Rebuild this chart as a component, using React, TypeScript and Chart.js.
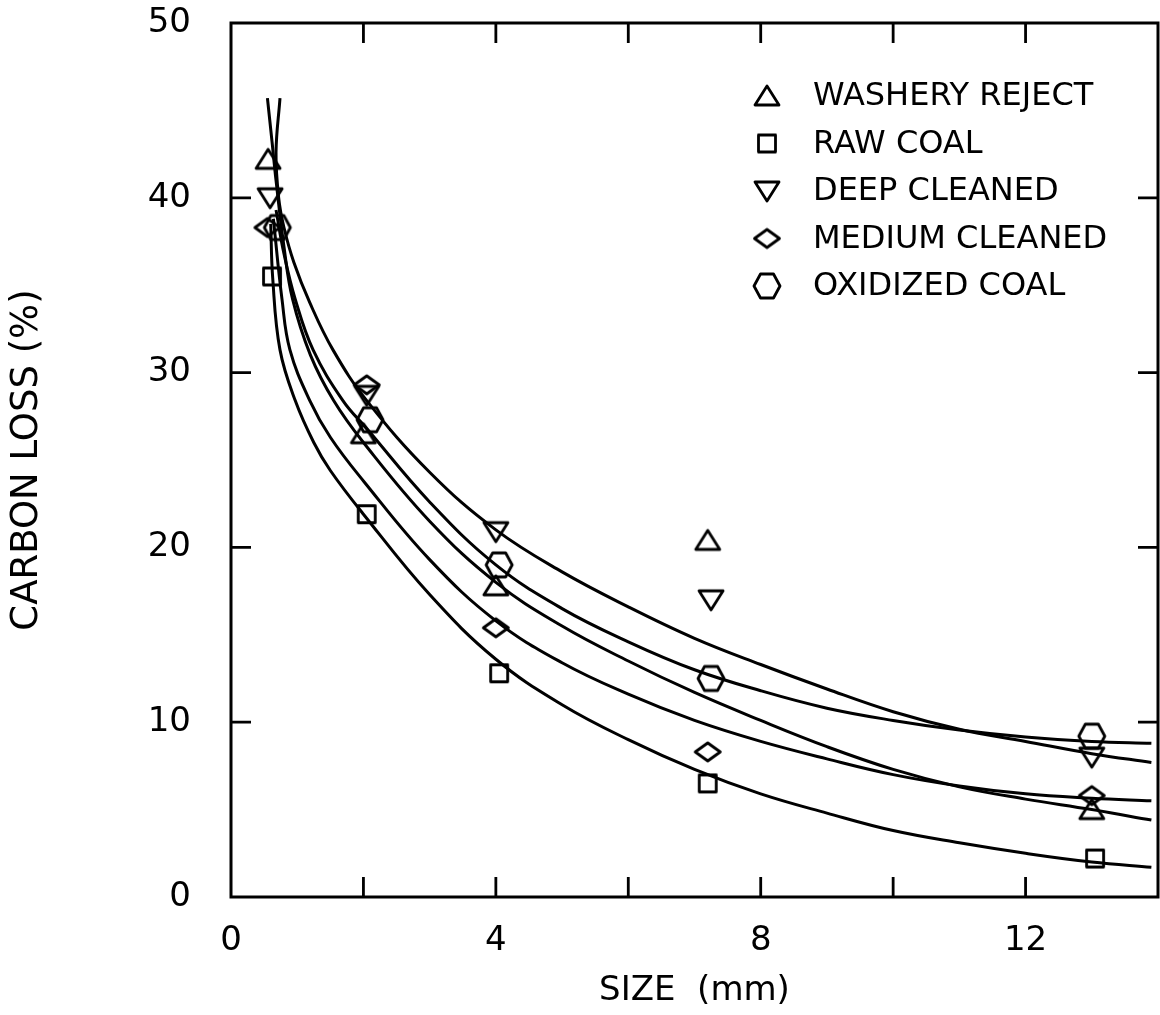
import React, { useEffect, useRef } from 'react';
import { Chart, registerables } from 'chart.js';

Chart.register(...registerables);

const FONT_FAMILY = '"DejaVu Sans", "Liberation Sans", Arial, sans-serif';
const INK = '#000000';

// ---------- labels ----------
const seriesLabels = ['WASHERY REJECT', 'RAW COAL', 'DEEP CLEANED', 'MEDIUM CLEANED', 'OXIDIZED COAL'];
const markerShapes = ['triUp', 'square', 'triDown', 'diamond', 'hexagon'];
const xTitle = 'SIZE  (mm)';
const yTitle = 'CARBON LOSS (%)';

// ---------- tick values ----------
const xTickMarks = [2, 4, 6, 8, 10, 12];
const yTickMarks = [10, 20, 30, 40];
const xLabelEvery = 4;

// ---------- measured points (size mm, carbon loss %) ----------
const washeryPtsX = [0.56, 2.0, 4.0, 7.2, 13.0];
const washeryPtsY = [42.2, 26.5, 17.8, 20.4, 5.0];
const rawPtsX = [0.62, 2.05, 4.05, 7.2, 13.05];
const rawPtsY = [35.5, 21.9, 12.8, 6.5, 2.2];
const deepPtsX = [0.59, 2.05, 4.0, 7.25, 13.0];
const deepPtsY = [40.0, 28.7, 20.9, 17.0, 8.0];
const mediumPtsX = [0.55, 2.05, 4.0, 7.2, 13.0];
const mediumPtsY = [38.3, 29.3, 15.4, 8.3, 5.8];
const oxidizedPtsX = [0.7, 2.1, 4.05, 7.25, 13.0];
const oxidizedPtsY = [38.3, 27.3, 19.0, 12.5, 9.2];

// ---------- fitted curves ----------
const washeryCurveX = [0.55, 0.62, 0.68, 0.8, 0.93, 1.2, 1.55, 2.0, 3.0, 4.0, 5.0, 6.0, 7.0, 8.0, 9.0, 10.0, 11.0, 12.0, 13.0, 13.9];
const washeryCurveY = [45.7, 43.2, 41.0, 37.2, 34.2, 31.0, 28.4, 26.0, 21.5, 18.0, 15.5, 13.5, 11.7, 10.1, 8.6, 7.3, 6.3, 5.6, 5.0, 4.4];
const rawCurveX = [0.6, 0.63, 0.74, 0.97, 1.25, 1.5, 2.0, 3.0, 4.0, 5.0, 6.0, 7.0, 8.0, 9.0, 10.0, 11.0, 12.0, 13.0, 13.9];
const rawCurveY = [38.5, 35.4, 31.3, 28.4, 26.0, 24.4, 21.9, 17.3, 13.6, 11.0, 9.0, 7.3, 5.9, 4.8, 3.8, 3.1, 2.5, 2.0, 1.7];
const deepCurveX = [0.74, 0.68, 0.72, 0.8, 0.95, 1.19, 1.54, 2.05, 3.0, 4.0, 5.0, 6.0, 7.0, 8.0, 9.0, 10.0, 11.0, 12.0, 13.0, 13.9];
const deepCurveY = [45.7, 42.6, 40.0, 38.3, 36.3, 34.0, 31.3, 28.4, 24.3, 21.0, 18.6, 16.6, 14.8, 13.3, 11.9, 10.6, 9.6, 8.9, 8.2, 7.7];
const mediumCurveX = [0.64, 0.77, 0.89, 1.19, 1.5, 2.0, 3.0, 4.0, 5.0, 6.0, 7.0, 8.0, 9.0, 10.0, 11.0, 12.0, 13.0, 13.9];
const mediumCurveY = [38.8, 34.2, 31.3, 28.4, 26.3, 23.8, 19.3, 15.8, 13.4, 11.6, 10.1, 8.9, 7.9, 7.0, 6.35, 5.9, 5.65, 5.5];
const oxidizedCurveX = [0.68, 0.8, 0.97, 1.24, 1.69, 2.05, 3.0, 4.0, 5.0, 6.0, 7.0, 8.0, 9.0, 10.0, 11.0, 12.0, 13.0, 13.9];
const oxidizedCurveY = [39.3, 36.8, 34.2, 31.3, 28.4, 26.8, 22.6, 19.0, 16.5, 14.6, 13.0, 11.8, 10.8, 10.1, 9.55, 9.15, 8.9, 8.8];

function makeMarker(kind: string): HTMLCanvasElement {
  const s = 34;
  const c = document.createElement('canvas');
  c.width = s;
  c.height = s;
  const g = c.getContext('2d')!;
  g.strokeStyle = INK;
  g.lineWidth = 2.8;
  g.lineJoin = 'round';
  const cx = s / 2;
  const cy = s / 2;
  g.beginPath();
  if (kind === 'triUp') {
    g.moveTo(cx, cy - 10);
    g.lineTo(cx + 12, cy + 9);
    g.lineTo(cx - 12, cy + 9);
    g.closePath();
  } else if (kind === 'triDown') {
    g.moveTo(cx - 12, cy - 9);
    g.lineTo(cx + 12, cy - 9);
    g.lineTo(cx, cy + 10);
    g.closePath();
  } else if (kind === 'square') {
    g.rect(cx - 8.5, cy - 8.5, 17, 17);
  } else if (kind === 'diamond') {
    g.moveTo(cx - 12.5, cy);
    g.lineTo(cx, cy - 9);
    g.lineTo(cx + 12.5, cy);
    g.lineTo(cx, cy + 9);
    g.closePath();
  } else {
    g.moveTo(cx - 13, cy);
    g.lineTo(cx - 6.5, cy - 12);
    g.lineTo(cx + 6.5, cy - 12);
    g.lineTo(cx + 13, cy);
    g.lineTo(cx + 6.5, cy + 12);
    g.lineTo(cx - 6.5, cy + 12);
    g.closePath();
  }
  g.stroke();
  return c;
}

const framePlugin = {
  id: 'frameTicks',
  afterDatasetsDraw(chart: any) {
    const { ctx, chartArea: a, scales } = chart;
    const xs = scales.x;
    const ys = scales.y;
    const L = 20;
    ctx.save();
    ctx.strokeStyle = INK;
    ctx.lineWidth = 3;
    ctx.lineCap = 'square';
    ctx.strokeRect(a.left, a.top, a.right - a.left, a.bottom - a.top);
    ctx.lineWidth = 2.8;
    ctx.lineCap = 'butt';
    ctx.beginPath();
    xTickMarks.forEach((v) => {
      const p = xs.getPixelForValue(v);
      ctx.moveTo(p, a.bottom);
      ctx.lineTo(p, a.bottom - L);
      ctx.moveTo(p, a.top);
      ctx.lineTo(p, a.top + L);
    });
    yTickMarks.forEach((v) => {
      const p = ys.getPixelForValue(v);
      ctx.moveTo(a.left, p);
      ctx.lineTo(a.left + L, p);
      ctx.moveTo(a.right, p);
      ctx.lineTo(a.right - L, p);
    });
    ctx.stroke();
    ctx.restore();
  },
};

const legendPlugin = {
  id: 'insideLegend',
  afterDraw(chart: any) {
    const { ctx, chartArea: a } = chart;
    const markerX = a.right - 391;
    const textX = a.right - 345;
    const firstY = a.top + 73;
    const gap = 47.5;
    const items = chart.data.datasets.filter((d: any) => d.isMarkerSet);
    ctx.save();
    ctx.fillStyle = INK;
    ctx.font = `32px ${FONT_FAMILY}`;
    ctx.textBaseline = 'middle';
    ctx.textAlign = 'left';
    items.forEach((d: any, i: number) => {
      const y = firstY + i * gap;
      const img = d.pointStyle as HTMLCanvasElement;
      ctx.drawImage(img, markerX - img.width / 2, y - img.height / 2);
      ctx.fillText(d.label, textX, y + 1);
    });
    ctx.restore();
  },
};

// canvas is a little wider than the page; the overflow keeps the frame's right edge at the viewport edge
const CANVAS_W = 1171;
const CANVAS_H = 1015;

export default function App() {
  const ref = useRef<HTMLCanvasElement>(null);

  useEffect(() => {
    document.body.style.margin = '0';
    document.body.style.overflow = 'hidden';
    const canvas = ref.current!;
    const markers = markerShapes.map(makeMarker);
    const pointSets = [
      { x: washeryPtsX, y: washeryPtsY },
      { x: rawPtsX, y: rawPtsY },
      { x: deepPtsX, y: deepPtsY },
      { x: mediumPtsX, y: mediumPtsY },
      { x: oxidizedPtsX, y: oxidizedPtsY },
    ];
    const curveSets = [
      { x: washeryCurveX, y: washeryCurveY },
      { x: rawCurveX, y: rawCurveY },
      { x: deepCurveX, y: deepCurveY },
      { x: mediumCurveX, y: mediumCurveY },
      { x: oxidizedCurveX, y: oxidizedCurveY },
    ];
    const datasets: any[] = [
      ...curveSets.map((c, i) => ({
        type: 'line',
        label: seriesLabels[i] + ' (fit)',
        data: c.x.map((x, j) => ({ x, y: c.y[j] })),
        borderColor: INK,
        borderWidth: 3,
        pointRadius: 0,
        tension: 0.4,
        fill: false,
        order: 2,
      })),
      ...pointSets.map((p, i) => ({
        type: 'scatter',
        label: seriesLabels[i],
        isMarkerSet: true,
        data: p.x.map((x, j) => ({ x, y: p.y[j] })),
        pointStyle: markers[i],
        pointRadius: 12,
        showLine: false,
        order: 1,
      })),
    ];

    const chart = new Chart(canvas, {
      type: 'scatter',
      data: { datasets },
      options: {
        responsive: false,
        animation: false,
        devicePixelRatio: 1,
        layout: { padding: { left: 0, top: 23, right: 0, bottom: 0 } },
        plugins: {
          legend: { display: false },
          tooltip: { enabled: false },
        },
        scales: {
          x: {
            type: 'linear',
            min: 0,
            max: 14,
            grid: { display: false, drawTicks: false },
            border: { display: false },
            ticks: {
              stepSize: 2,
              autoSkip: false,
              maxRotation: 0,
              padding: 24,
              color: INK,
              font: { family: FONT_FAMILY, size: 34 },
              callback: (v: any) => (Number(v) % xLabelEvery === 0 ? String(v) : ''),
            },
            title: {
              display: true,
              text: xTitle,
              color: INK,
              font: { family: FONT_FAMILY, size: 34 },
              padding: { top: 0, bottom: 3 },
            },
            afterFit: (s: any) => {
              s.height = 118;
              s.paddingLeft = 0;
              s.paddingRight = 0;
            },
          },
          y: {
            type: 'linear',
            min: 0,
            max: 50,
            grid: { display: false, drawTicks: false },
            border: { display: false },
            ticks: {
              stepSize: 10,
              padding: 40,
              color: INK,
              font: { family: FONT_FAMILY, size: 34 },
            },
            title: {
              display: true,
              text: yTitle,
              color: INK,
              font: { family: FONT_FAMILY, size: 37 },
              padding: { top: 5, bottom: 0 },
            },
            afterFit: (s: any) => {
              s.width = 231;
              s.paddingTop = 0;
              s.paddingBottom = 0;
            },
          },
        },
      } as any,
      plugins: [framePlugin, legendPlugin],
    });
    return () => chart.destroy();
  }, []);

  return (
    <div style={{ width: 1160, height: 1015, overflow: 'hidden', background: '#fff' }}>
      <canvas ref={ref} width={CANVAS_W} height={CANVAS_H} style={{ display: 'block' }} />
    </div>
  );
}
